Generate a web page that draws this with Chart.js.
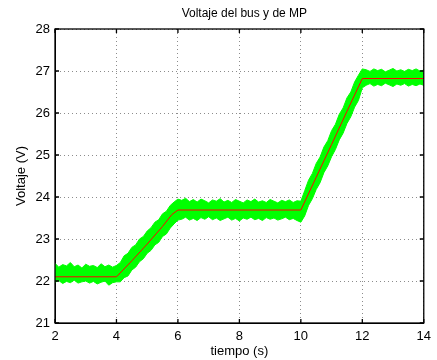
<!DOCTYPE html>
<html>
<head>
<meta charset="utf-8">
<script src="https://cdn.jsdelivr.net/npm/chart.js@4"></script>
<style>
  html, body { margin: 0; padding: 0; background: #fff; }
  #grafica { display: block; }
</style>
</head>
<body>
<canvas id="grafica" width="437" height="360"></canvas>
<script>
// tiempo (s) y envolvente de la banda verde (voltaje del bus)
const tiempo = [2, 2.125, 2.25, 2.375, 2.5, 2.625, 2.75, 2.875, 3, 3.125, 3.25, 3.375, 3.5, 3.625, 3.75, 3.875, 4,
  4.125, 4.25, 4.375, 4.5, 4.625, 4.75, 4.875, 5, 5.125, 5.25, 5.375, 5.5, 5.625, 5.75, 5.875, 6,
  6.125, 6.25, 6.375, 6.5, 6.625, 6.75, 6.875, 7, 7.125, 7.25, 7.375, 7.5, 7.625, 7.75, 7.875, 8,
  8.125, 8.25, 8.375, 8.5, 8.625, 8.75, 8.875, 9, 9.125, 9.25, 9.375, 9.5, 9.625, 9.75, 9.875, 10,
  10.125, 10.25, 10.375, 10.5, 10.625, 10.75, 10.875, 11, 11.125, 11.25, 11.375, 11.5, 11.625, 11.75, 11.875, 12,
  12.125, 12.25, 12.375, 12.5, 12.625, 12.75, 12.875, 13, 13.125, 13.25, 13.375, 13.5, 13.625, 13.75, 13.875, 14];
const busMax = [22.42, 22.33, 22.39, 22.36, 22.44, 22.34, 22.38, 22.31, 22.40, 22.35, 22.37, 22.32, 22.41, 22.34, 22.38, 22.33, 22.37,
  22.44, 22.60, 22.66, 22.80, 22.86, 23.00, 23.06, 23.19, 23.27, 23.40, 23.46, 23.60, 23.66, 23.80, 23.88, 23.95,
  23.92, 23.97, 23.89, 23.94, 23.88, 23.95, 23.91, 23.86, 23.93, 23.90, 23.96, 23.88, 23.92, 23.87, 23.94, 23.90,
  23.86, 23.93, 23.89, 23.95, 23.88, 23.91, 23.87, 23.94, 23.90, 23.86, 23.92, 23.89, 23.93, 23.87, 23.91, 23.90,
  24.15, 24.40, 24.56, 24.80, 24.95, 25.19, 25.34, 25.58, 25.73, 25.97, 26.12, 26.36, 26.50, 26.74, 26.90, 27.05,
  27.03, 26.99, 27.05, 27.01, 27.04, 26.98, 27.02, 27.06, 27.00, 27.03, 26.99, 27.04, 27.01, 27.05, 27.00, 27.02];
const busMin = [21.97, 22.01, 21.94, 21.99, 21.96, 22.02, 21.95, 21.98, 22.00, 21.95, 21.99, 21.93, 21.97, 22.00, 21.90, 21.96, 21.98,
  21.98, 22.08, 22.12, 22.26, 22.33, 22.46, 22.53, 22.66, 22.73, 22.86, 22.92, 23.06, 23.12, 23.26, 23.36, 23.45,
  23.47, 23.52, 23.45, 23.49, 23.44, 23.51, 23.47, 23.53, 23.46, 23.50, 23.44, 23.48, 23.52, 23.45, 23.49, 23.43,
  23.50, 23.47, 23.52, 23.46, 23.49, 23.44, 23.51, 23.47, 23.50, 23.45, 23.48, 23.52, 23.46, 23.49, 23.44, 23.40,
  23.55, 23.80, 23.96, 24.18, 24.34, 24.58, 24.74, 24.96, 25.13, 25.36, 25.52, 25.75, 25.91, 26.14, 26.30, 26.60,
  26.66, 26.70, 26.64, 26.68, 26.65, 26.71, 26.67, 26.63, 26.69, 26.66, 26.70, 26.64, 26.68, 26.65, 26.69, 26.66];

// referencia MP (linea roja)
const tiempoMP = [2, 4, 4.5, 5, 5.5, 5.8, 6, 10, 10.5, 11, 11.5, 12, 14];
const voltajeMP = [22.1, 22.1, 22.48, 22.88, 23.3, 23.58, 23.69, 23.69, 24.47, 25.25, 26.04, 26.82, 26.82];

const ticksX = [2, 4, 6, 8, 10, 12, 14];
const ticksY = [21, 22, 23, 24, 25, 26, 27, 28];
const titulo = 'Voltaje del bus y de MP';

const fuente = "'Liberation Sans', Arial, sans-serif";
const puntos = (xs, ys) => xs.map((t, i) => ({ x: t, y: ys[i] }));

// marco negro, marcas hacia adentro y titulo, estilo MATLAB
const marco = {
  id: 'marco',
  afterDraw(chart) {
    const { ctx, chartArea: a, scales: { x, y } } = chart;
    ctx.save();
    ctx.strokeStyle = '#000';
    ctx.lineWidth = 1.3;
    ctx.strokeRect(a.left, a.top, a.right - a.left, a.bottom - a.top);
    ctx.beginPath();
    ticksX.forEach(v => {
      const px = x.getPixelForValue(v);
      ctx.moveTo(px, a.bottom); ctx.lineTo(px, a.bottom - 4);
      ctx.moveTo(px, a.top); ctx.lineTo(px, a.top + 4);
    });
    ticksY.forEach(v => {
      const py = y.getPixelForValue(v);
      ctx.moveTo(a.left, py); ctx.lineTo(a.left + 4, py);
      ctx.moveTo(a.right, py); ctx.lineTo(a.right - 4, py);
    });
    ctx.stroke();

    ctx.fillStyle = '#000';
    ctx.font = '12px ' + fuente;
    ctx.textAlign = 'center';
    ctx.textBaseline = 'middle';
    ctx.fillText(titulo, (a.left + a.right) / 2 + 5, 13.5);
    ctx.restore();
  }
};

new Chart(document.querySelector('#grafica'), {
  type: 'line',
  data: {
    datasets: [
      {
        label: 'MP',
        data: puntos(tiempoMP, voltajeMP),
        borderColor: '#ff0000',
        borderWidth: 1,
        pointRadius: 0,
        fill: false,
        tension: 0
      },
      {
        label: 'bus max',
        data: puntos(tiempo, busMax),
        borderColor: '#00ff00',
        borderWidth: 1,
        pointRadius: 0,
        fill: false,
        tension: 0
      },
      {
        label: 'bus min',
        data: puntos(tiempo, busMin),
        borderColor: '#00ff00',
        backgroundColor: '#00ff00',
        borderWidth: 1,
        pointRadius: 0,
        fill: '-1',
        tension: 0
      }
    ]
  },
  options: {
    responsive: false,
    animation: false,
    layout: { padding: { left: 8, right: 9, top: 29, bottom: 0 } },
    plugins: {
      legend: { display: false },
      tooltip: { enabled: false },
      title: { display: false }
    },
    scales: {
      x: {
        type: 'linear',
        min: 2,
        max: 14,
        afterBuildTicks: s => { s.ticks = ticksX.map(v => ({ value: v })); },
        afterFit: s => { s.height = 37; },
        ticks: { color: '#000', font: { family: fuente, size: 13 }, padding: 6, maxRotation: 0 },
        grid: { color: '#8c8c8c', drawTicks: false, lineWidth: 1 },
        border: { display: true, color: '#000', width: 1, dash: [1, 3] },
        title: {
          display: true,
          text: 'tiempo (s)',
          color: '#000',
          font: { family: fuente, size: 13 },
          padding: { top: 0, bottom: 1 }
        }
      },
      y: {
        min: 21,
        max: 28,
        afterBuildTicks: s => { s.ticks = ticksY.map(v => ({ value: v })); },
        afterFit: s => { s.width = 47; },
        ticks: { color: '#000', font: { family: fuente, size: 13 }, padding: 5 },
        grid: { color: '#8c8c8c', drawTicks: false, lineWidth: 1 },
        border: { display: true, color: '#000', width: 1, dash: [1, 3] },
        title: {
          display: true,
          text: 'Voltaje (V)',
          color: '#000',
          font: { family: fuente, size: 13 },
          padding: { top: 6, bottom: 0 }
        }
      }
    }
  },
  plugins: [marco]
});
</script>
</body>
</html>
